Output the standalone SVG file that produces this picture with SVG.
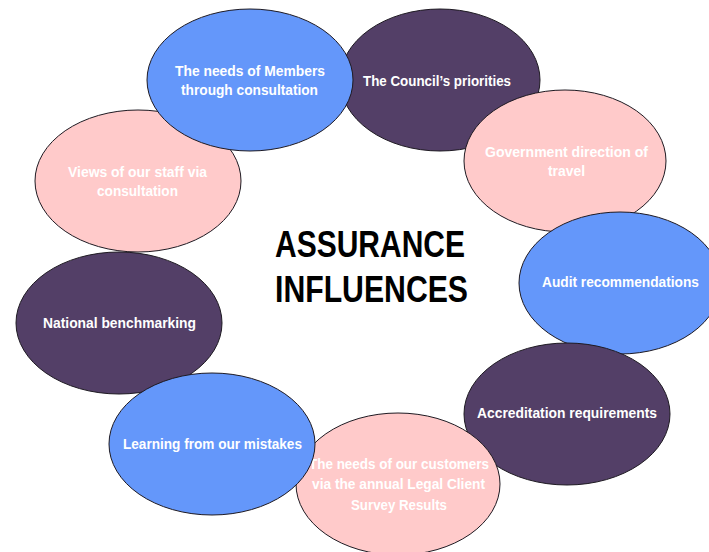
<svg xmlns="http://www.w3.org/2000/svg" width="709" height="552" viewBox="0 0 709 552">
  <style>
    .node { stroke: #1e1a22; stroke-width: 1; }
    .blue { fill: #6497FA; }
    .plum { fill: #533F67; }
    .rose { fill: #FFCACA; }
    .lbl { font-family: "Liberation Sans", Arial, sans-serif; font-size: 15px; font-weight: bold; fill: #ffffff; text-anchor: middle; }
    .title { font-family: "Liberation Sans Narrow", "Liberation Sans", Arial, sans-serif; font-size: 37px; font-weight: bold; fill: #000000; text-anchor: middle; }
  </style>

  <!-- ring of influence ellipses, back to front -->
  <g id="national-benchmarking">
    <ellipse class="node plum" cx="119" cy="323" rx="103" ry="71"/>
    <text class="lbl" x="119.5" y="328" textLength="153" lengthAdjust="spacingAndGlyphs">National benchmarking</text>
  </g>

  <g id="staff-views">
    <ellipse class="node rose" cx="138" cy="181" rx="103" ry="71"/>
    <text class="lbl" x="137.5" y="177" textLength="139" lengthAdjust="spacingAndGlyphs">Views of our staff via</text>
    <text class="lbl" x="137.5" y="196" textLength="81" lengthAdjust="spacingAndGlyphs">consultation</text>
  </g>

  <g id="council-priorities">
    <ellipse class="node plum" cx="440" cy="80" rx="100" ry="71"/>
    <text class="lbl" x="437" y="86" textLength="148" lengthAdjust="spacingAndGlyphs">The Council’s priorities</text>
  </g>

  <g id="members-needs">
    <ellipse class="node blue" cx="250" cy="80" rx="103" ry="71"/>
    <text class="lbl" x="250" y="76" textLength="150" lengthAdjust="spacingAndGlyphs">The needs of Members</text>
    <text class="lbl" x="249.5" y="95" textLength="137" lengthAdjust="spacingAndGlyphs">through consultation</text>
  </g>

  <g id="government-direction">
    <ellipse class="node rose" cx="565" cy="161" rx="101" ry="71"/>
    <text class="lbl" x="566.5" y="157" textLength="163" lengthAdjust="spacingAndGlyphs">Government direction of</text>
    <text class="lbl" x="566.5" y="176" textLength="37" lengthAdjust="spacingAndGlyphs">travel</text>
  </g>

  <g id="audit-recommendations">
    <ellipse class="node blue" cx="620" cy="283" rx="101" ry="71"/>
    <text class="lbl" x="620.5" y="287" textLength="157" lengthAdjust="spacingAndGlyphs">Audit recommendations</text>
  </g>

  <g id="accreditation-requirements">
    <ellipse class="node plum" cx="567" cy="414" rx="103" ry="71"/>
    <text class="lbl" x="567" y="418" textLength="180" lengthAdjust="spacingAndGlyphs">Accreditation requirements</text>
  </g>

  <g id="customer-needs">
    <ellipse class="node rose" cx="398" cy="484" rx="102" ry="71"/>
    <text class="lbl" x="399" y="469" textLength="180" lengthAdjust="spacingAndGlyphs">The needs of our customers</text>
    <text class="lbl" x="398.5" y="489" textLength="173" lengthAdjust="spacingAndGlyphs">via the annual Legal Client</text>
    <text class="lbl" x="399" y="510" textLength="96" lengthAdjust="spacingAndGlyphs">Survey Results</text>
  </g>

  <g id="learning-from-mistakes">
    <ellipse class="node blue" cx="212" cy="444" rx="103" ry="71"/>
    <text class="lbl" x="212.5" y="449" textLength="179" lengthAdjust="spacingAndGlyphs">Learning from our mistakes</text>
  </g>

  <!-- central heading -->
  <g id="heading">
    <text class="title" x="370" y="257" textLength="190" lengthAdjust="spacingAndGlyphs">ASSURANCE</text>
    <text class="title" x="371.5" y="302" textLength="193" lengthAdjust="spacingAndGlyphs">INFLUENCES</text>
  </g>
</svg>
